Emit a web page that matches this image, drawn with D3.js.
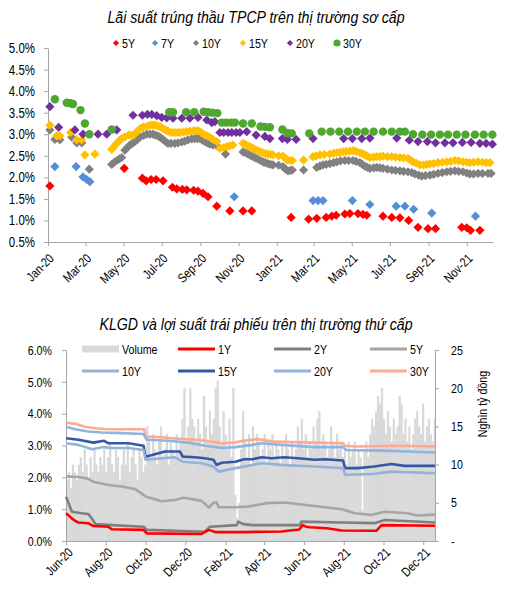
<!DOCTYPE html>
<html><head><meta charset="utf-8">
<script src="https://cdnjs.cloudflare.com/ajax/libs/d3/7.8.5/d3.min.js"></script>
<style>
body{margin:0;background:#fff;}
svg text{font-family:"Liberation Sans",Arial,Helvetica,sans-serif;fill:#000;}
</style></head><body>
<svg id="c" width="506" height="599"></svg>
<script>
// ---------- Chart 1 data: primary auction yields (%) ----------
const topTitle = "Lãi suất trúng thầu TPCP trên thị trường sơ cấp";
const topSeriesNames = ["5Y","7Y","10Y","15Y","20Y","30Y"];
const topXTicks = ["2020-01-01","2020-03-01","2020-05-01","2020-07-01","2020-09-01","2020-11-01","2021-01-01","2021-03-01","2021-05-01","2021-07-01","2021-09-01","2021-11-01"];
const topYTicks = [0.5,1.0,1.5,2.0,2.5,3.0,3.5,4.0,4.5,5.0];

const auction5Y = [["2020-01-04",1.80],["2020-05-02",2.21],["2020-05-31",1.98],["2020-06-06",1.92],["2020-06-14",1.95],["2020-06-22",1.95],["2020-07-03",1.92],["2020-07-18",1.77],["2020-07-25",1.73],["2020-08-03",1.72],["2020-08-10",1.71],["2020-08-21",1.70],["2020-08-28",1.68],["2020-09-05",1.63],["2020-09-13",1.55],["2020-09-27",1.33],["2020-10-18",1.22],["2020-11-08",1.22],["2020-11-22",1.22],["2021-01-24",1.07],["2021-02-21",1.03],["2021-03-06",1.05],["2021-03-21",1.07],["2021-03-30",1.10],["2021-04-06",1.12],["2021-04-20",1.15],["2021-04-28",1.16],["2021-05-11",1.16],["2021-05-19",1.14],["2021-05-25",1.12],["2021-06-20",1.10],["2021-07-04",1.07],["2021-07-17",1.06],["2021-07-31",1.00],["2021-08-15",0.84],["2021-08-31",0.81],["2021-09-12",0.81],["2021-10-24",0.84],["2021-11-01",0.83],["2021-11-07",0.77],["2021-11-22",0.77]];

const auction7Y = [["2020-01-12",2.25],["2020-02-15",2.25],["2020-02-26",2.01],["2020-03-03",1.95],["2020-03-08",1.90],["2020-10-25",1.55],["2021-02-28",1.46],["2021-03-08",1.46],["2021-03-16",1.46],["2021-05-02",1.46],["2021-05-30",1.37],["2021-07-11",1.33],["2021-07-25",1.33],["2021-08-08",1.26],["2021-09-06",1.17],["2021-11-15",1.10]];

const auction10Y = [["2020-01-04",3.10],["2020-01-12",2.88],["2020-01-20",2.87],["2020-02-08",2.93],["2020-02-16",2.80],["2020-02-24",2.80],["2020-03-07",2.19],["2020-04-12",2.30],["2020-04-16",2.35],["2020-04-20",2.39],["2020-04-24",2.43],["2020-04-28",2.46],["2020-05-03",2.63],["2020-05-07",2.69],["2020-05-11",2.75],["2020-05-15",2.79],["2020-05-19",2.83],["2020-05-23",2.88],["2020-05-27",2.93],["2020-06-02",2.97],["2020-06-07",3.00],["2020-06-12",3.00],["2020-06-17",3.00],["2020-06-21",2.98],["2020-06-25",2.96],["2020-06-29",2.92],["2020-07-03",2.88],["2020-07-07",2.83],["2020-07-11",2.79],["2020-07-16",2.79],["2020-07-22",2.79],["2020-07-27",2.80],["2020-08-02",2.82],["2020-08-07",2.84],["2020-08-12",2.87],["2020-08-18",2.89],["2020-08-23",2.90],["2020-08-27",2.90],["2020-08-31",2.90],["2020-09-04",2.86],["2020-09-08",2.83],["2020-09-12",2.80],["2020-09-16",2.77],["2020-09-21",2.75],["2020-09-27",2.73],["2020-10-11",2.54],["2020-11-08",2.59],["2020-11-12",2.57],["2020-11-16",2.54],["2020-11-20",2.51],["2020-11-24",2.48],["2020-11-28",2.45],["2020-12-02",2.42],["2020-12-06",2.39],["2020-12-10",2.36],["2020-12-14",2.34],["2020-12-18",2.32],["2020-12-22",2.30],["2020-12-26",2.29],["2021-01-04",2.28],["2021-01-11",2.25],["2021-01-15",2.19],["2021-01-19",2.15],["2021-01-23",2.16],["2021-01-26",2.17],["2021-02-13",2.17],["2021-03-06",2.23],["2021-03-11",2.26],["2021-03-16",2.29],["2021-03-21",2.30],["2021-03-27",2.32],["2021-04-02",2.34],["2021-04-07",2.36],["2021-04-13",2.38],["2021-04-20",2.39],["2021-04-26",2.39],["2021-05-03",2.39],["2021-05-08",2.37],["2021-05-14",2.34],["2021-05-18",2.30],["2021-05-22",2.26],["2021-05-26",2.23],["2021-05-30",2.21],["2021-06-05",2.22],["2021-06-10",2.23],["2021-06-15",2.22],["2021-06-20",2.21],["2021-06-27",2.19],["2021-07-04",2.17],["2021-07-10",2.16],["2021-07-17",2.15],["2021-07-23",2.14],["2021-07-30",2.13],["2021-08-05",2.11],["2021-08-10",2.08],["2021-08-16",2.05],["2021-08-21",2.03],["2021-08-27",2.04],["2021-09-03",2.05],["2021-09-09",2.07],["2021-09-16",2.09],["2021-09-23",2.11],["2021-09-30",2.13],["2021-10-06",2.14],["2021-10-13",2.15],["2021-10-19",2.14],["2021-10-26",2.13],["2021-11-01",2.10],["2021-11-06",2.08],["2021-11-12",2.08],["2021-11-19",2.09],["2021-11-26",2.09],["2021-12-05",2.09],["2021-12-10",2.09]];

const auction15Y = [["2020-01-04",3.21],["2020-01-15",2.96],["2020-01-20",2.96],["2020-02-06",3.04],["2020-02-16",2.87],["2020-02-24",2.87],["2020-02-29",2.52],["2020-03-16",2.54],["2020-04-12",2.65],["2020-04-16",2.72],["2020-04-20",2.79],["2020-04-24",2.85],["2020-04-28",2.90],["2020-05-03",2.94],["2020-05-09",2.98],["2020-05-13",2.98],["2020-05-17",2.98],["2020-05-21",3.04],["2020-05-25",3.10],["2020-05-29",3.14],["2020-06-02",3.17],["2020-06-08",3.19],["2020-06-13",3.21],["2020-06-17",3.21],["2020-06-21",3.21],["2020-06-25",3.19],["2020-06-29",3.17],["2020-07-03",3.13],["2020-07-07",3.10],["2020-07-11",3.07],["2020-07-15",3.04],["2020-07-19",3.04],["2020-07-23",3.04],["2020-07-27",3.04],["2020-07-31",3.04],["2020-08-05",3.05],["2020-08-10",3.06],["2020-08-15",3.07],["2020-08-21",3.08],["2020-08-25",3.08],["2020-08-29",3.08],["2020-09-03",3.03],["2020-09-08",2.98],["2020-09-12",2.96],["2020-09-16",2.93],["2020-09-21",2.88],["2020-09-27",2.83],["2020-10-02",2.67],["2020-10-08",2.69],["2020-10-13",2.71],["2020-10-18",2.73],["2020-10-23",2.75],["2020-11-08",2.79],["2020-11-12",2.76],["2020-11-16",2.73],["2020-11-20",2.70],["2020-11-24",2.67],["2020-11-28",2.64],["2020-12-02",2.62],["2020-12-06",2.59],["2020-12-10",2.57],["2020-12-14",2.55],["2020-12-18",2.54],["2020-12-22",2.53],["2020-12-26",2.52],["2021-01-04",2.50],["2021-01-11",2.49],["2021-01-15",2.44],["2021-01-18",2.40],["2021-01-22",2.39],["2021-01-26",2.39],["2021-02-13",2.40],["2021-02-28",2.48],["2021-03-05",2.50],["2021-03-11",2.52],["2021-03-18",2.53],["2021-03-27",2.54],["2021-04-02",2.56],["2021-04-07",2.57],["2021-04-12",2.58],["2021-04-17",2.59],["2021-04-22",2.60],["2021-04-28",2.61],["2021-05-03",2.62],["2021-05-08",2.60],["2021-05-14",2.57],["2021-05-18",2.55],["2021-05-22",2.52],["2021-05-26",2.49],["2021-05-30",2.46],["2021-06-05",2.47],["2021-06-10",2.48],["2021-06-15",2.48],["2021-06-20",2.49],["2021-06-27",2.48],["2021-07-04",2.48],["2021-07-10",2.47],["2021-07-17",2.46],["2021-07-23",2.45],["2021-07-30",2.44],["2021-08-03",2.40],["2021-08-07",2.36],["2021-08-12",2.33],["2021-08-18",2.29],["2021-08-24",2.29],["2021-08-29",2.30],["2021-09-03",2.31],["2021-09-09",2.32],["2021-09-16",2.34],["2021-09-23",2.35],["2021-09-30",2.36],["2021-10-06",2.37],["2021-10-13",2.39],["2021-10-19",2.38],["2021-10-26",2.36],["2021-11-01",2.35],["2021-11-06",2.34],["2021-11-12",2.35],["2021-11-19",2.36],["2021-11-26",2.35],["2021-12-02",2.34],["2021-12-08",2.34]];

const auction20Y = [["2020-01-04",3.64],["2020-01-18",3.16],["2020-02-13",3.10],["2020-02-26",3.00],["2020-03-21",3.00],["2020-04-04",3.00],["2020-04-20",3.10],["2020-05-16",3.44],["2020-05-31",3.44],["2020-06-08",3.46],["2020-06-15",3.46],["2020-06-23",3.43],["2020-07-01",3.39],["2020-07-09",3.38],["2020-07-19",3.37],["2020-08-02",3.37],["2020-08-15",3.37],["2020-08-28",3.39],["2020-09-11",3.33],["2020-09-19",3.27],["2020-09-24",3.29],["2020-10-02",3.04],["2020-10-08",3.04],["2020-10-15",3.04],["2020-10-21",3.04],["2020-10-28",3.04],["2020-11-03",3.04],["2020-11-14",3.06],["2020-11-29",2.98],["2020-12-13",2.95],["2020-12-21",2.90],["2021-01-10",2.90],["2021-01-18",2.88],["2021-02-01",2.88],["2021-02-28",2.90],["2021-04-18",2.90],["2021-05-02",2.90],["2021-05-17",2.90],["2021-05-30",2.91],["2021-07-12",2.91],["2021-08-01",2.86],["2021-08-15",2.83],["2021-08-30",2.83],["2021-09-12",2.80],["2021-09-27",2.80],["2021-10-10",2.80],["2021-10-25",2.81],["2021-11-08",2.81],["2021-11-22",2.79],["2021-12-02",2.79],["2021-12-12",2.77]];

const auction30Y = [["2020-01-12",3.81],["2020-01-31",3.73],["2020-02-06",3.72],["2020-02-10",3.70],["2020-02-22",3.56],["2020-02-29",3.25],["2020-03-07",3.00],["2020-04-12",3.11],["2020-07-13",3.51],["2020-07-19",3.51],["2020-08-09",3.51],["2020-08-22",3.51],["2020-09-06",3.52],["2020-09-13",3.51],["2020-09-20",3.50],["2020-09-28",3.49],["2020-10-05",3.27],["2020-10-12",3.27],["2020-10-20",3.27],["2020-10-26",3.27],["2020-11-08",3.25],["2020-11-22",3.25],["2020-12-06",3.18],["2020-12-13",3.17],["2020-12-21",3.16],["2021-01-10",3.11],["2021-01-18",3.03],["2021-01-25",3.02],["2021-02-22",3.02],["2021-03-14",3.06],["2021-03-28",3.06],["2021-04-11",3.06],["2021-04-25",3.06],["2021-05-09",3.06],["2021-05-22",3.06],["2021-06-05",3.06],["2021-06-20",3.06],["2021-07-04",3.06],["2021-07-17",3.06],["2021-07-25",3.06],["2021-08-07",3.00],["2021-08-22",2.99],["2021-09-05",2.99],["2021-09-19",2.99],["2021-10-02",2.99],["2021-10-16",2.99],["2021-10-30",2.99],["2021-11-14",2.99],["2021-11-28",2.99],["2021-12-12",2.99]];

// ---------- Chart 2 data: secondary market ----------
const botTitle = "KLGD và lợi suất trái phiếu trên thị trường thứ cấp";
const botSeriesNames = ["Volume","1Y","2Y","5Y","10Y","15Y","20Y","30Y"];
const botXTicks = ["2020-06-01","2020-08-01","2020-10-01","2020-12-01","2021-02-01","2021-04-01","2021-06-01","2021-08-01","2021-10-01","2021-12-01"];
const botYTicks = [0,1,2,3,4,5,6];
const botVolTicks = [0,5,10,15,20,25];
const volAxisLabel = "Nghìn tỷ đồng";

// trading volume (thousand bn VND), one bar per 3 calendar days from 2020-06-01
const volumeStart = "2020-06-01";
const volumeStepDays = 3;
const volume = [8,9,7,10,9,8,10,
 11,9,12,10,8,11,9,12,10,9,11,
 10,12,9,11,13,10,9,12,11,8,10,
 12,10,13,9,11,12,10,8,12,11,9,10,
 15,13,11,14,12,10,13,15,11,12,14,10,13,12,11,14,12,13,
 16,20,13,15,20,16,15,13,16,14,12,19,15,13,17,14,16,20,21,15,
 13,17,14,12,16,11,20,6,3,5,
 12,17,13,11,14,10,15,12,14,13,11,12,14,10,13,12,14,11,13,12,10,13,11,14,12,10,13,11,12,15,13,16,
 12,14,11,13,12,15,13,16,17,12,14,13,11,12,15,13,11,14,12,13,
 11,12,10,13,11,12,13,10,12,11,4,12,13,11,14,16,15,17,19,18,
 20,16,14,17,15,13,16,14,15,19,18,14,16,13,15,12,14,16,17,15,14,18,13,15,16,14,13,16];

const yield1Y = [["2020-06-01",0.87],["2020-06-05",0.80],["2020-06-10",0.71],["2020-06-15",0.63],["2020-06-20",0.58],["2020-07-05",0.56],["2020-07-13",0.47],["2020-08-05",0.45],["2020-08-10",0.37],["2020-09-28",0.35],["2020-10-03",0.24],["2020-12-26",0.22],["2021-01-06",0.35],["2021-01-16",0.28],["2021-03-01",0.28],["2021-04-27",0.30],["2021-05-25",0.36],["2021-05-30",0.50],["2021-06-04",0.45],["2021-06-10",0.43],["2021-07-06",0.40],["2021-07-29",0.33],["2021-09-20",0.32],["2021-09-28",0.50],["2021-12-19",0.48]];
const yield2Y = [["2020-06-01",1.39],["2020-06-05",1.19],["2020-06-10",0.92],["2020-06-25",0.87],["2020-07-05",0.85],["2020-07-11",0.70],["2020-07-16",0.53],["2020-08-10",0.50],["2020-09-28",0.45],["2020-10-03",0.35],["2020-12-31",0.29],["2021-01-08",0.45],["2021-02-18",0.50],["2021-02-20",0.61],["2021-02-28",0.53],["2021-03-14",0.50],["2021-05-26",0.50],["2021-05-28",0.61],["2021-07-29",0.58],["2021-09-17",0.56],["2021-10-03",0.66],["2021-12-19",0.58]];
const yield5Y = [["2020-06-01",2.03],["2020-06-20",2.01],["2020-07-05",1.96],["2020-07-13",1.86],["2020-08-05",1.76],["2020-08-26",1.71],["2020-09-15",1.63],["2020-10-01",1.40],["2020-10-26",1.25],["2020-11-15",1.29],["2020-11-28",1.36],["2020-12-16",1.30],["2020-12-26",1.26],["2021-01-06",1.05],["2021-01-13",1.20],["2021-01-18",1.22],["2021-01-21",1.06],["2021-02-16",1.06],["2021-03-07",1.08],["2021-04-05",1.19],["2021-05-02",1.21],["2021-06-17",1.10],["2021-07-29",1.00],["2021-08-18",0.87],["2021-09-12",0.82],["2021-10-03",0.92],["2021-11-07",0.87],["2021-11-22",0.80],["2021-12-19",0.83]];
const yield10Y = [["2020-06-01",3.07],["2020-06-20",3.02],["2020-07-11",2.88],["2020-07-29",2.95],["2020-08-10",2.92],["2020-09-05",2.92],["2020-09-28",2.86],["2020-10-01",2.55],["2020-10-26",2.60],["2020-11-15",2.63],["2020-11-27",2.49],["2020-12-26",2.44],["2021-01-13",2.34],["2021-01-21",2.18],["2021-02-16",2.29],["2021-03-14",2.39],["2021-03-28",2.44],["2021-04-27",2.39],["2021-06-17",2.34],["2021-07-31",2.29],["2021-08-03",2.08],["2021-09-17",2.11],["2021-10-13",2.18],["2021-12-19",2.13]];
const yield15Y = [["2020-06-01",3.23],["2020-06-20",3.18],["2020-07-13",3.09],["2020-07-29",3.15],["2020-08-05",3.07],["2020-09-05",3.07],["2020-09-28",2.99],["2020-10-01",2.65],["2020-10-11",2.70],["2020-10-31",2.81],["2020-11-23",2.81],["2020-11-27",2.65],["2020-12-16",2.63],["2020-12-31",2.60],["2021-01-13",2.55],["2021-01-18",2.39],["2021-01-26",2.46],["2021-02-16",2.49],["2021-03-01",2.57],["2021-03-14",2.57],["2021-03-28",2.63],["2021-04-12",2.60],["2021-05-02",2.63],["2021-05-23",2.60],["2021-06-17",2.55],["2021-07-03",2.57],["2021-07-31",2.53],["2021-08-03",2.29],["2021-08-23",2.29],["2021-09-17",2.34],["2021-10-13",2.42],["2021-11-02",2.36],["2021-12-19",2.36]];
const yield20Y = [["2020-06-01",3.59],["2020-06-15",3.51],["2020-07-05",3.44],["2020-07-26",3.41],["2020-08-26",3.39],["2020-09-28",3.36],["2020-10-03",3.18],["2020-11-05",3.15],["2020-12-06",3.09],["2020-12-31",2.99],["2021-01-26",2.92],["2021-02-16",2.95],["2021-03-14",3.02],["2021-03-28",3.07],["2021-04-27",3.02],["2021-06-17",2.95],["2021-07-31",2.95],["2021-08-05",2.86],["2021-09-28",2.84],["2021-11-07",2.81],["2021-12-19",2.78]];
const yield30Y = [["2020-06-01",3.72],["2020-06-15",3.68],["2020-06-30",3.59],["2020-07-16",3.54],["2020-07-31",3.52],["2020-08-26",3.51],["2020-09-29",3.51],["2020-10-01",3.28],["2020-10-26",3.26],["2020-11-15",3.22],["2020-12-16",3.18],["2020-12-31",3.15],["2021-01-26",3.07],["2021-02-13",3.09],["2021-02-28",3.15],["2021-03-22",3.20],["2021-04-12",3.13],["2021-04-27",3.12],["2021-06-17",3.09],["2021-07-31",3.07],["2021-08-03",2.99],["2021-08-18",2.97],["2021-10-23",2.99],["2021-12-19",2.97]];

// ---------- Drawing ----------
const parse = d3.timeParse("%Y-%m-%d");
const fmtMonth = d3.timeFormat("%b-%y");
const svg = d3.select("#c");
const AXC = "#a6a6a6";
const NARROW = 0.82; // horizontal squeeze to imitate a narrow face

function narrow(sel){
  sel.each(function(){
    const t = d3.select(this);
    const x = +t.attr("x") || 0, y = +t.attr("y") || 0;
    const prev = t.attr("transform") || "";
    t.attr("x", 0).attr("y", 0).attr("transform", `${prev} translate(${x},${y}) scale(${NARROW},1)`);
  });
}
function styleAxis(g, fs){
  g.select(".domain").attr("stroke", AXC);
  g.selectAll(".tick line").attr("stroke", AXC);
  g.selectAll(".tick text").attr("fill","#000").style("font-size", fs+"px");
}

// ===== Chart 1 =====
const tx = d3.scaleTime().domain([parse("2020-01-01"), parse("2021-12-13")]).range([48, 493]);
const ty = d3.scaleLinear().domain([0.5, 5.0]).range([242, 48]);

svg.append("text").attr("x", 256).attr("y", 23).attr("text-anchor","middle")
  .attr("textLength", 297).attr("lengthAdjust","spacingAndGlyphs")
  .style("font-size","16px").style("font-style","italic").text(topTitle);

const gx1 = svg.append("g").attr("transform","translate(0,242)")
  .call(d3.axisBottom(tx).tickValues(topXTicks.map(parse)).tickFormat(fmtMonth).tickSize(4).tickSizeOuter(0));
styleAxis(gx1, 13);
gx1.selectAll(".tick text").attr("x",0).attr("y",0).attr("dy","0.35em").attr("text-anchor","end")
  .attr("transform","translate(3,14) rotate(-45)");
narrow(gx1.selectAll(".tick text"));

const gy1 = svg.append("g").attr("transform","translate(48,0)")
  .call(d3.axisLeft(ty).tickValues(topYTicks).tickFormat(d => d.toFixed(1)+"%").tickSize(4).tickSizeOuter(0).tickPadding(9));
styleAxis(gy1, 14);
narrow(gy1.selectAll(".tick text"));

const topColors = {"5Y":"#ff0000","7Y":"#558ed5","10Y":"#808080","15Y":"#ffc000","20Y":"#7030a0","30Y":"#4ea72e"};
const topData = {"5Y":auction5Y,"7Y":auction7Y,"10Y":auction10Y,"15Y":auction15Y,"20Y":auction20Y,"30Y":auction30Y};
const diamond = r => `M0,${-r}L${r},0L0,${r}L${-r},0Z`;

topSeriesNames.forEach(name => {
  const g = svg.append("g");
  const pts = topData[name].map(d => ({date: parse(d[0]), v: d[1]}));
  if (name === "30Y") {
    g.selectAll("circle").data(pts).join("circle")
      .attr("cx", d => tx(d.date)).attr("cy", d => ty(d.v)).attr("r", 4.2)
      .attr("fill", topColors[name]);
  } else {
    g.selectAll("path").data(pts).join("path")
      .attr("transform", d => `translate(${tx(d.date)},${ty(d.v)})`)
      .attr("d", diamond(4.6)).attr("fill", topColors[name]);
  }
});

// legend chart 1
const lg1x = [116, 155, 196, 243, 290, 337];
topSeriesNames.forEach((name, i) => {
  const g = svg.append("g").attr("transform", `translate(${lg1x[i]},43)`);
  if (name === "30Y") g.append("circle").attr("r", 3.6).attr("fill", topColors[name]);
  else g.append("path").attr("d", diamond(3.1)).attr("fill", topColors[name]);
  const t = g.append("text").attr("x", 6).attr("y", 0).attr("dy","0.36em").style("font-size","13px").text(name);
  narrow(t);
});

// ===== Chart 2 =====
const bx = d3.scaleTime().domain([parse("2020-06-01"), parse("2021-12-19")]).range([66, 435]);
const by = d3.scaleLinear().domain([0, 6]).range([541, 350]);
const bv = d3.scaleLinear().domain([0, 25]).range([541, 350]);

svg.append("text").attr("x", 256).attr("y", 330).attr("text-anchor","middle")
  .attr("textLength", 313).attr("lengthAdjust","spacingAndGlyphs")
  .style("font-size","16px").style("font-style","italic").text(botTitle);

// volume bars
const v0 = parse(volumeStart);
const volPts = volume.map((v, i) => ({date: d3.timeDay.offset(v0, i*volumeStepDays), v}));
const stepW = bx(d3.timeDay.offset(v0, volumeStepDays)) - bx(v0);
svg.append("g").selectAll("rect").data(volPts).join("rect")
  .attr("x", d => bx(d.date)).attr("width", stepW + 0.3)
  .attr("y", d => bv(d.v)).attr("height", d => bv(0) - bv(d.v))
  .attr("fill", "#d9d9d9");

const gx2 = svg.append("g").attr("transform","translate(0,541)")
  .call(d3.axisBottom(bx).tickValues(botXTicks.map(parse)).tickFormat(fmtMonth).tickSize(4).tickSizeOuter(0));
styleAxis(gx2, 13);
gx2.selectAll(".tick text").attr("x",0).attr("y",0).attr("dy","0.35em").attr("text-anchor","end")
  .attr("transform","translate(4,9) rotate(-45)");
narrow(gx2.selectAll(".tick text"));

const gy2 = svg.append("g").attr("transform","translate(66,0)")
  .call(d3.axisLeft(by).tickValues(botYTicks).tickFormat(d => d.toFixed(1)+"%").tickSize(4).tickSizeOuter(0).tickPadding(10));
styleAxis(gy2, 13);
narrow(gy2.selectAll(".tick text"));

const gy3 = svg.append("g").attr("transform","translate(435,0)")
  .call(d3.axisRight(bv).tickValues(botVolTicks).tickFormat(d => d === 0 ? "-" : d).tickSize(4).tickSizeOuter(0).tickPadding(12));
styleAxis(gy3, 13);
narrow(gy3.selectAll(".tick text"));

const yl = svg.append("text").attr("transform","translate(482,404) rotate(-90)").attr("text-anchor","middle")
  .attr("dy","0.35em").style("font-size","13px").text(volAxisLabel);
narrow(yl);

const botColors = {"1Y":"#ff0000","2Y":"#7f7f7f","5Y":"#a6a6a6","10Y":"#95b3d7","15Y":"#3558a6","20Y":"#8db4e2","30Y":"#fbab8e"};
const botData = {"1Y":yield1Y,"2Y":yield2Y,"5Y":yield5Y,"10Y":yield10Y,"15Y":yield15Y,"20Y":yield20Y,"30Y":yield30Y};
const line = d3.line().x(d => bx(d.date)).y(d => by(d.v));
["30Y","20Y","15Y","10Y","5Y","2Y","1Y"].forEach(name => {
  const pts = botData[name].map(d => ({date: parse(d[0]), v: d[1]}));
  svg.append("path").datum(pts).attr("d", line).attr("fill","none")
    .attr("stroke", botColors[name]).attr("stroke-width", 2.6).attr("stroke-linejoin","round");
});

// legend chart 2
const lgCols = [82, 178, 274, 370];
const lgRows = [349, 371];
botSeriesNames.forEach((name, i) => {
  const g = svg.append("g").attr("transform", `translate(${lgCols[i%4]},${lgRows[Math.floor(i/4)]})`);
  if (name === "Volume") g.append("rect").attr("x",0).attr("y",-3.5).attr("width",37).attr("height",7).attr("fill","#d9d9d9");
  else g.append("line").attr("x1",0).attr("x2",37).attr("stroke", botColors[name]).attr("stroke-width",3);
  const t = g.append("text").attr("x", 40).attr("dy","0.36em").style("font-size","13px").text(name);
  narrow(t);
});
</script></body></html>
